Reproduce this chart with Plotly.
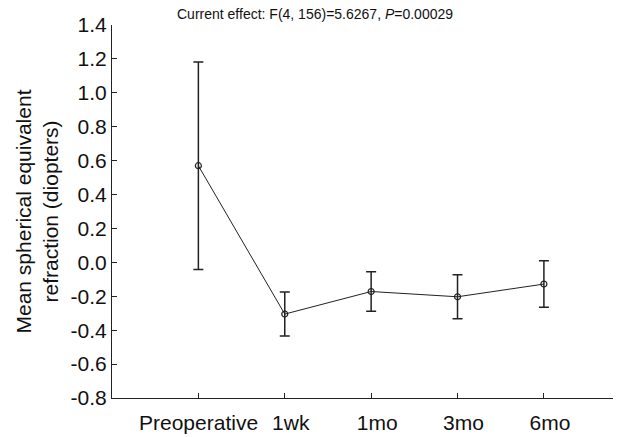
import plotly.graph_objects as go

categories = ["Preoperative", "1wk", "1mo", "3mo", "6mo"]
means = [0.57, -0.305, -0.172, -0.203, -0.128]
errors = [0.612, 0.13, 0.117, 0.13, 0.137]
y_ticks = [-0.8, -0.6, -0.4, -0.2, 0.0, 0.2, 0.4, 0.6, 0.8, 1.0, 1.2, 1.4]
y_ticktext = ["%.1f" % v for v in y_ticks]  # plain hyphen minus

xpos = list(range(len(categories)))
# pad first label so it sits slightly left of its tick, like the reference
x_ticktext = [categories[0] + "\u00a0" * 2] + categories[1:]

L, R, T, B = 112, 4, 25, 39
W, H = 617, 437
pw = W - L - R

def px_to_paper_x(px):
    return (px - L) / pw

fig = go.Figure()
fig.add_trace(go.Scatter(
    x=xpos, y=means,
    mode="lines+markers",
    line=dict(color="#222", width=1),
    marker=dict(symbol="circle-open", size=6, color="#222", line=dict(width=1.2)),
    error_y=dict(type="data", array=errors, visible=True, color="#222", thickness=1.5, width=5),
    showlegend=False,
))

font_family = "Liberation Sans, Arial, sans-serif"
fig.update_layout(
    width=W, height=H,
    margin=dict(l=L, r=R, t=T, b=B),
    paper_bgcolor="white", plot_bgcolor="white",
    font=dict(family=font_family, color="#111", size=21),
    xaxis=dict(
        range=[-1, 4.8], tickvals=xpos, ticktext=x_ticktext,
        showline=True, linecolor="#222", linewidth=1,
        ticks="inside", ticklen=5, tickcolor="#222",
        showgrid=False, zeroline=False, tickangle=0, automargin=False,
        tickfont=dict(size=21), ticklabelstandoff=6, ticklabelshift=6,
    ),
    yaxis=dict(
        range=[-0.8, 1.4], tickvals=y_ticks, ticktext=y_ticktext,
        showline=True, linecolor="#222", linewidth=1,
        ticks="inside", ticklen=5, tickcolor="#222",
        showgrid=False, zeroline=False, automargin=False,
        tickfont=dict(size=21),
    ),
    annotations=[
        dict(
            text="Current effect: F(4, 156)=5.6267, <i>P</i>=0.00029",
            xref="paper", yref="paper", x=px_to_paper_x(315), y=1.0,
            xanchor="center", yanchor="bottom", yshift=1, showarrow=False,
            font=dict(size=14, family=font_family, color="#111"),
        ),
        dict(
            text="Mean spherical equivalent", textangle=-90,
            xref="paper", yref="paper", x=px_to_paper_x(23), y=0.5,
            xanchor="center", yanchor="middle", showarrow=False,
            font=dict(size=21, family=font_family, color="#111"),
        ),
        dict(
            text="refraction (diopters)", textangle=-90,
            xref="paper", yref="paper", x=px_to_paper_x(50), y=0.5,
            xanchor="center", yanchor="middle", showarrow=False,
            font=dict(size=21, family=font_family, color="#111"),
        ),
    ],
)

fig.write_html("out.html")
